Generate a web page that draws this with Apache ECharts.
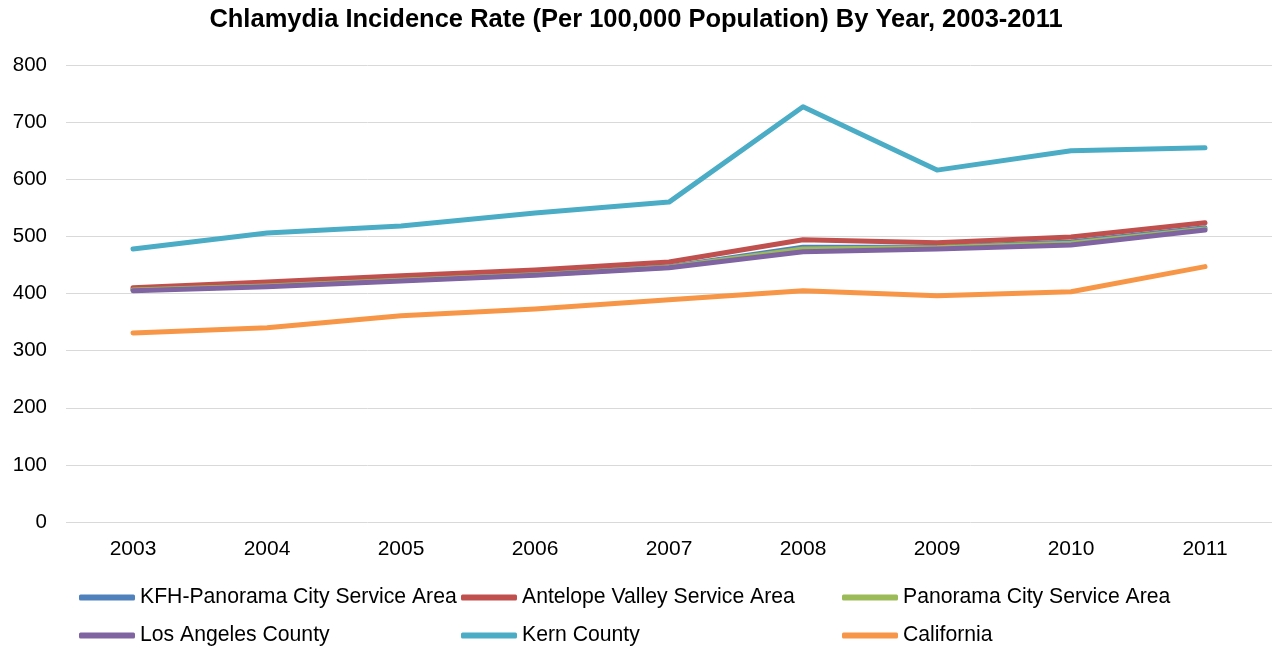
<!DOCTYPE html>
<html><head><meta charset="utf-8">
<script src="https://cdn.jsdelivr.net/npm/echarts@6/dist/echarts.min.js"></script>
<style>html,body{margin:0;padding:0;background:#fff}#c{width:1272px;height:649px}</style>
</head><body><div id="c"></div>
<script>
const years = ['2003','2004','2005','2006','2007','2008','2009','2010','2011'];
const kfhPanorama = [407, 414, 424, 434, 447, 481, 481, 490, 515];
const antelopeValley = [410, 420, 431, 441, 455, 494, 489, 499, 524];
const panoramaCity = [406, 413, 423, 433, 446, 478, 480, 488, 513];
const losAngeles = [405, 412, 422, 432, 445, 473, 478, 485, 511];
const kernCounty = [478, 506, 518, 541, 560, 727, 616, 650, 655];
const california = [331, 340, 361, 373, 389, 405, 396, 403, 447];
const yTicks = [0, 100, 200, 300, 400, 500, 600, 700, 800];

const names = ['KFH-Panorama City Service Area','Antelope Valley Service Area','Panorama City Service Area','Los Angeles County','Kern County','California'];
const datas = [kfhPanorama, antelopeValley, panoramaCity, losAngeles, kernCounty, california];
const colors = ['#4F81BD','#C0504D','#9BBB59','#8064A2','#4BACC6','#F79646'];
const font = 'Liberation Sans, Arial, sans-serif';

const colLeft = [79, 461, 842];
const rowTop = [587, 625];
const chart = echarts.init(document.getElementById('c'));
const legends = names.map((n, i) => ({
  left: colLeft[i % 3], top: rowTop[Math.floor(i / 3)], padding: 0, itemWidth: 56, itemHeight: 6,
  icon: 'roundRect', data: [n],
  textStyle: {fontFamily: font, fontSize: 21.2, color: '#000'}
}));
chart.setOption({
  animation: false,
  color: colors,
  title: {text: 'Chlamydia Incidence Rate (Per 100,000 Population) By Year, 2003-2011', left: 'center', top: 2,
    textStyle: {fontFamily: font, fontSize: 25.5, fontWeight: 'bold', color: '#000'}},
  legend: legends,
  grid: {left: 66, right: 0, top: 65, bottom: 127},
  xAxis: {type: 'category', data: years, boundaryGap: true,
    axisLine: {show: false}, axisTick: {show: false},
    axisLabel: {fontFamily: font, fontSize: 21, color: '#000', margin: 17}},
  yAxis: {type: 'value', min: yTicks[0], max: yTicks[yTicks.length-1], interval: 100,
    axisLine: {show: false}, axisTick: {show: false},
    splitLine: {lineStyle: {color: '#D9D9D9', width: 1}},
    axisLabel: {fontFamily: font, fontSize: 20.5, color: '#000', margin: 19}},
  series: names.map((n, i) => ({name: n, type: 'line', data: datas[i], symbol: 'none',
    lineStyle: {width: 5, color: colors[i], cap: 'round', join: 'round'}, itemStyle: {color: colors[i]}}))
});
</script></body></html>
